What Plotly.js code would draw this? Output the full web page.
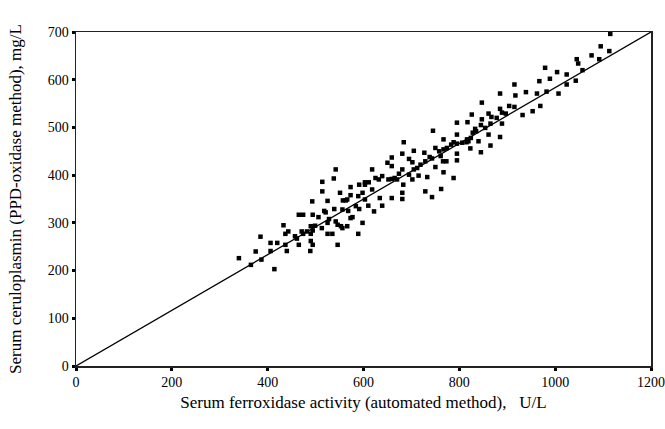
<!DOCTYPE html>
<html>
<head>
<meta charset="utf-8">
<script src="https://cdn.plot.ly/plotly-3.0.1.min.js"></script>
<style>html,body{margin:0;padding:0;background:#fff}#chart{width:665px;height:429px}</style>
</head>
<body>
<div id="chart"></div>
<script>
// Serum ferroxidase activity (U/L)
const ferroxidase = [
340,365,375,387,385,406,406,414,420,433,437,443,437,440,457,461,465,465,474,471,474,482,489,490,490,493,494,
542,538,514,514,525,551,573,573,557,563,566,591,603,603,611,618,625,632,639,650,659,659,652,659,618,598,589,603,634,659,639,622,610,584,591,577,568,556,539,518,521,506,490,499,494,513,525,528,542,546,553,556,566,573,525,535,546,494,589,598,
847,826,795,817,833,845,745,795,767,783,788,795,806,815,816,824,828,835,819,823,840,845,774,767,750,758,684,705,727,681,695,702,738,743,729,761,766,795,795,773,719,712,705,681,674,670,665,695,702,715,750,733,767,788,683,681,681,729,743,762,
979,1004,1024,967,989,915,885,917,939,962,982,1007,885,889,904,915,861,867,878,897,847,854,865,889,932,953,969,861,885,865,
1115,1095,1113,1076,1092,1045,1048,1057,1024,1043
];
// Serum ceruloplasmin (mg/L)
const ceruloplasmin = [
226,212,240,223,271,258,241,203,258,295,277,282,254,241,272,267,254,317,317,282,277,282,241,277,262,345,317,
412,393,386,366,346,363,375,358,347,347,349,380,385,380,385,412,394,391,398,426,437,419,391,392,370,363,356,349,352,352,336,324,336,335,329,312,325,328,329,325,322,312,293,294,284,289,300,308,303,296,293,289,293,310,277,277,254,254,277,300,
552,527,510,511,497,505,493,485,475,464,469,466,468,469,475,478,489,492,471,456,471,448,457,454,457,450,469,451,447,445,434,427,438,435,429,440,429,445,431,429,422,415,412,412,403,391,394,401,391,399,417,396,406,394,380,363,350,366,354,371,
625,616,611,597,602,590,571,567,574,571,575,571,539,531,545,543,529,522,520,529,517,499,508,508,526,534,545,485,480,462,
696,670,660,651,643,643,634,620,590,598
];
// Reference line endpoints
const lineX = [0, 1200];
const lineY = [0, 700];
const xTicks = [0, 200, 400, 600, 800, 1000, 1200];
const yTicks = [0, 100, 200, 300, 400, 500, 600, 700];

const font = "Liberation Serif, Times New Roman, serif";
const traces = [
  {x: lineX, y: lineY, mode: 'lines', type: 'scatter', line: {color: '#000', width: 1.3}, hoverinfo: 'skip'},
  {x: ferroxidase, y: ceruloplasmin, mode: 'markers', type: 'scatter',
   marker: {symbol: 'square', size: 4.5, color: '#000'}}
];
const layout = {
  width: 665, height: 429,
  margin: {l: 76, r: 14, t: 32, b: 63},
  showlegend: false,
  paper_bgcolor: '#fff', plot_bgcolor: '#fff',
  font: {family: font, color: '#000', size: 14},
  xaxis: {
    range: [0, 1200], tickvals: xTicks, ticktext: xTicks.map(String),
    showgrid: false, zeroline: false, showline: true, mirror: true,
    linecolor: '#222', linewidth: 1.5,
    ticks: 'outside', ticklen: 3, tickwidth: 3, tickcolor: '#000',
    ticklabeloverflow: 'allow',
    tickfont: {family: font, size: 14, color: '#000'},
    title: {text: 'Serum ferroxidase activity (automated method),\u00a0\u00a0\u00a0U/L',
            font: {family: font, size: 17, color: '#000'}, standoff: 7},
    automargin: false
  },
  yaxis: {
    range: [0, 700], tickvals: yTicks, ticktext: yTicks.map(String),
    showgrid: false, zeroline: false, showline: true, mirror: true,
    linecolor: '#222', linewidth: 1.5,
    ticks: 'outside', ticklen: 3, tickwidth: 3, tickcolor: '#000',
    ticklabeloverflow: 'allow',
    tickfont: {family: font, size: 14, color: '#000'},
    title: {text: 'Serum ceruloplasmin (PPD-oxidase method), mg/L',
            font: {family: font, size: 17, color: '#000'}, standoff: 22},
    automargin: false
  }
};
Plotly.newPlot('chart', traces, layout, {displayModeBar: false, staticPlot: true});
</script>
</body>
</html>
